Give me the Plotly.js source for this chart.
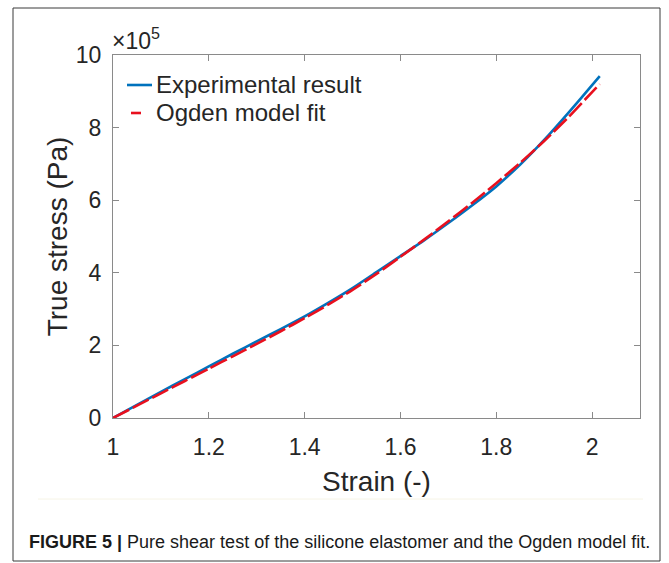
<!DOCTYPE html>
<html><head><meta charset="utf-8">
<script src="https://cdn.plot.ly/plotly-3.0.1.min.js"></script>
<style>html,body{margin:0;padding:0;background:#fff;}#chart{width:669px;height:563px;}</style>
</head><body><div id="chart"></div>
<script>
// Strain (-)
const strain = [1.0, 1.05, 1.1, 1.15, 1.2, 1.25, 1.3, 1.35, 1.4, 1.45, 1.5, 1.55, 1.6, 1.65, 1.7, 1.75, 1.8, 1.85, 1.9, 1.95, 2.0, 2.016];
// True stress in units of 1e5 Pa
const stressExperimental = [0, 0.36, 0.72, 1.07, 1.42, 1.77, 2.11, 2.45, 2.80, 3.18, 3.58, 4.02, 4.46, 4.90, 5.37, 5.86, 6.38, 6.98, 7.66, 8.40, 9.17, 9.42];
const stressOgden = [0, 0.34, 0.68, 1.02, 1.36, 1.70, 2.04, 2.39, 2.75, 3.13, 3.53, 3.97, 4.44, 4.92, 5.42, 5.93, 6.47, 7.03, 7.63, 8.28, 8.98, 9.20];
const seriesNames = ['Experimental result', 'Ogden model fit'];
const seriesColors = ['#0072BD', '#E8101E'];
const xTickVals = [1, 1.2, 1.4, 1.6, 1.8, 2];
const xTickText = ['1', '1.2', '1.4', '1.6', '1.8', '2'];
const yTickVals = [0, 2, 4, 6, 8, 10];
const yTickText = ['0', '2', '4', '6', '8', '10'];
const captionBold = 'FIGURE 5 |';
const captionText = 'Pure shear test of the silicone elastomer and the Ogden model fit.';

const W = 669, H = 563;
const M = {l: 113, r: 29, t: 55, b: 145};
const PW = W - M.l - M.r, PH = H - M.t - M.b;
const px = x => (x - M.l) / PW;
const py = y => (H - M.b - y) / PH;

const FONT = 'Liberation Sans, Arial, Helvetica, sans-serif';
const TXT = '#262626';

const traces = [
  {x: strain, y: stressExperimental, name: seriesNames[0], type: 'scatter', mode: 'lines',
   line: {color: seriesColors[0], width: 2.6, shape: 'spline', smoothing: 0.6}, showlegend: false, hoverinfo: 'skip'},
  {x: strain, y: stressOgden, name: seriesNames[1], type: 'scatter', mode: 'lines',
   line: {color: seriesColors[1], width: 2.6, dash: '18px,4px', shape: 'spline', smoothing: 0.6}, showlegend: false, hoverinfo: 'skip'}
];

const shapes = [
  {type: 'rect', xref: 'paper', yref: 'paper', x0: px(13), x1: px(660), y0: py(561), y1: py(8),
   line: {color: '#3a3a3a', width: 1}, fillcolor: 'rgba(0,0,0,0)', layer: 'below'},
  {type: 'line', xref: 'paper', yref: 'paper', x0: px(38), x1: px(643), y0: py(499), y1: py(499),
   line: {color: '#f6f4e6', width: 1}},
  {type: 'line', xref: 'paper', yref: 'paper', x0: px(127), x1: px(152), y0: py(85), y1: py(85),
   line: {color: seriesColors[0], width: 2.6}},
  {type: 'line', xref: 'paper', yref: 'paper', x0: px(131), x1: px(141), y0: py(113), y1: py(113),
   line: {color: seriesColors[1], width: 2.6}}
];

const annotations = [
  {xref: 'paper', yref: 'paper', x: px(154), y: py(85), xanchor: 'left', yanchor: 'middle',
   text: seriesNames[0], showarrow: false, font: {family: FONT, size: 24, color: TXT}},
  {xref: 'paper', yref: 'paper', x: px(154), y: py(113), xanchor: 'left', yanchor: 'middle',
   text: seriesNames[1], showarrow: false, font: {family: FONT, size: 24, color: TXT}},
  {xref: 'paper', yref: 'paper', x: px(110), y: py(39), xanchor: 'left', yanchor: 'middle',
   text: '×10<sup>5</sup>', showarrow: false, font: {family: FONT, size: 23, color: TXT}},
  {xref: 'paper', yref: 'paper', x: px(27), y: py(542), xanchor: 'left', yanchor: 'middle',
   text: '<b>' + captionBold + '</b> ' + captionText, showarrow: false,
   font: {family: FONT, size: 18, color: '#1a1a1a'}}
];

const layout = {
  width: W, height: H,
  margin: M,
  paper_bgcolor: '#ffffff', plot_bgcolor: '#ffffff',
  font: {family: FONT, color: TXT},
  xaxis: {
    range: [1, 2.1], tickvals: xTickVals, ticktext: xTickText,
    showgrid: false, zeroline: false, showline: true, mirror: 'ticks',
    linecolor: '#8a8a8a', linewidth: 1, ticks: 'inside', ticklen: 6, tickcolor: '#8a8a8a',
    tickfont: {family: FONT, size: 23, color: TXT}, ticklabelstandoff: 8,
    title: {text: 'Strain (-)', font: {family: FONT, size: 28, color: TXT}, standoff: 12}
  },
  yaxis: {
    range: [0, 10], tickvals: yTickVals, ticktext: yTickText,
    showgrid: false, zeroline: false, showline: true, mirror: 'ticks',
    linecolor: '#8a8a8a', linewidth: 1, ticks: 'inside', ticklen: 6, tickcolor: '#8a8a8a',
    tickfont: {family: FONT, size: 23, color: TXT}, ticklabelstandoff: 6,
    title: {text: 'True stress (Pa)', font: {family: FONT, size: 28, color: TXT}, standoff: 0}
  },
  shapes: shapes,
  annotations: annotations,
  showlegend: false
};

Plotly.newPlot('chart', traces, layout, {displayModeBar: false, staticPlot: true});
</script>
</body></html>
